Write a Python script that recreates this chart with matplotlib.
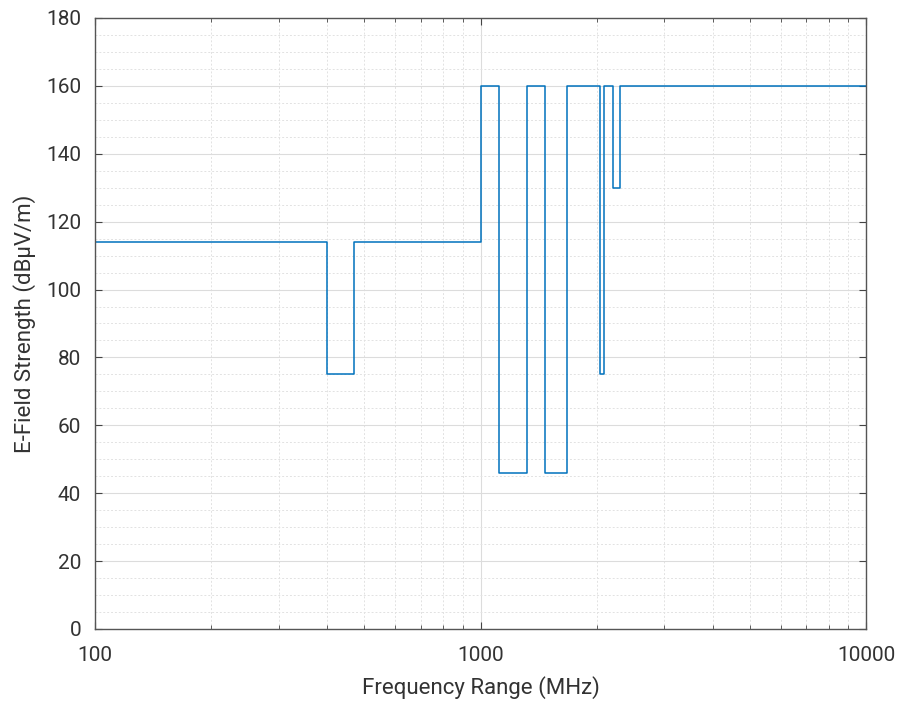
import matplotlib.pyplot as plt
from matplotlib.ticker import MultipleLocator, LogLocator, NullFormatter, FixedLocator, FixedFormatter

plt.rcParams['font.family'] = ['Roboto', 'DejaVu Sans']

# frequency band edges (MHz) and field level (dBuV/m) starting at each edge
freq_edges = [100, 400, 470, 1000, 1120, 1320, 1470, 1680, 2040, 2090, 2200, 2300, 10000]
levels = [114, 75, 114, 160, 46, 160, 46, 160, 75, 160, 130, 160, 160]

x_ticks = [100, 1000, 10000]
x_labels = ['100', '1000', '10000']

fig = plt.figure(figsize=(9.01, 7.03), dpi=100)
ax = fig.add_axes([0.1054, 0.1053, 0.8558, 0.8691])

ax.step(freq_edges, levels, where='post', color='#0072BD', linewidth=1.1)

ax.set_xscale('log')
ax.set_xlim(100, 10000)
ax.set_ylim(0, 180)

ax.xaxis.set_major_locator(FixedLocator(x_ticks))
ax.xaxis.set_major_formatter(FixedFormatter(x_labels))
ax.xaxis.set_minor_locator(LogLocator(base=10, subs=range(2, 10)))
ax.xaxis.set_minor_formatter(NullFormatter())
ax.yaxis.set_major_locator(MultipleLocator(20))
ax.yaxis.set_minor_locator(MultipleLocator(5))

ax.grid(which='major', color='#dcdcdc', linewidth=0.8)
ax.grid(which='minor', color='#e2e2e2', linewidth=0.7, linestyle=(0, (2, 2)))
ax.set_axisbelow(True)

ax.tick_params(which='both', direction='in', top=True, right=True, colors='#444444',
               labelcolor='#333333', labelsize=15)
ax.tick_params(which='major', length=5)
ax.tick_params(which='minor', length=3)
ax.tick_params(axis='y', which='minor', length=0)
ax.tick_params(axis='x', pad=12)
ax.tick_params(axis='y', pad=10)
for s in ax.spines.values():
    s.set_color('#555555')
    s.set_linewidth(1.0)

ax.set_xlabel('Frequency Range (MHz)', fontsize=16, color='#333333', labelpad=8)
ax.set_ylabel('E-Field Strength (dBµV/m)', fontsize=16, color='#333333', labelpad=7)

fig.savefig('out.png', dpi=100)
